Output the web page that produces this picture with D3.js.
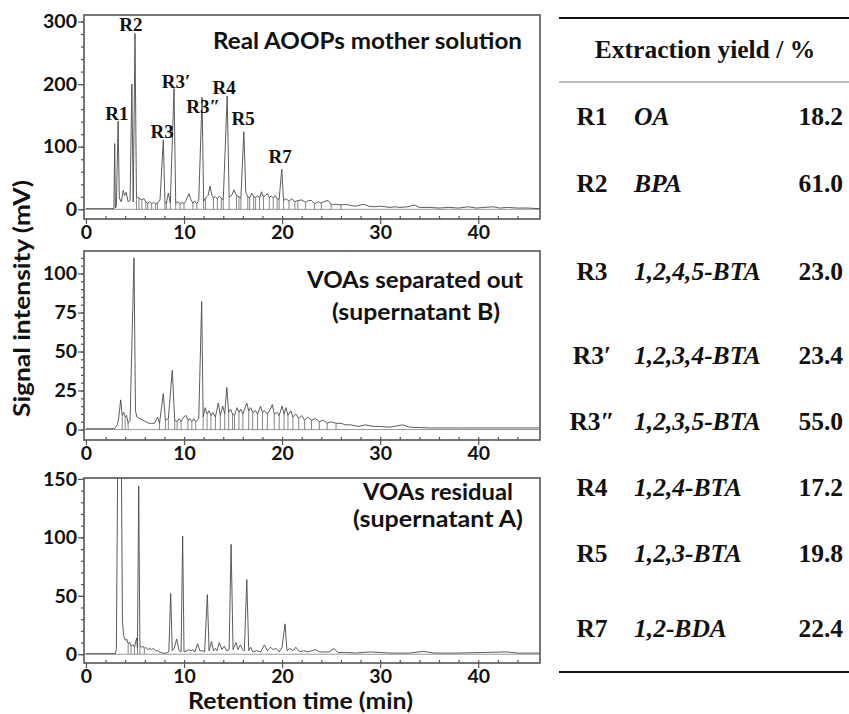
<!DOCTYPE html>
<html>
<head>
<meta charset="utf-8">
<script src="https://cdn.jsdelivr.net/npm/d3@7"></script>
<style>
    body { margin: 0; background: #fff; }
    svg { display: block; }
    .tick text { font-family: Lato, "Open Sans", sans-serif; font-weight: bold; font-size: 19.5px; fill: #111; }
    .axis line { stroke: #555; stroke-width: 1.2; }
    .panel-title { font-family: Lato, "Open Sans", sans-serif; font-weight: bold; font-size: 22px; fill: #111; }
    .peak-label { font-family: "Liberation Serif", "Times New Roman", serif; font-weight: bold; font-size: 19px; fill: #111; }
    .tbl { font-family: "Liberation Serif", "Times New Roman", serif; font-weight: bold; font-size: 25.5px; fill: #111; }
</style>
</head>
<body>
<svg width="849" height="714"></svg>
<script>
// ---- data (time in min, signal in mV) ----

// Real AOOPs mother solution
var motherT = [0, 2.85, 2.93, 3.0, 3.1, 3.28, 3.4, 3.6, 3.8, 3.95, 4.1, 4.3, 4.5, 4.68, 4.82, 5.0, 5.15, 5.4, 5.7, 5.9,
    6.1, 6.3, 6.5, 6.7, 6.9, 7.1, 7.3, 7.55, 7.89, 8.05, 8.2, 8.4, 8.6, 8.98, 9.15, 9.4, 9.6, 9.8, 10.0, 10.2,
    10.5, 10.7, 10.9, 11.1, 11.3, 11.5, 11.84, 12.0, 12.2, 12.45, 12.65, 12.85, 13.0, 13.2, 13.4, 13.6, 13.8, 14.0, 14.4, 14.6,
    14.85, 15.1, 15.35, 15.6, 15.8, 16.1, 16.3, 16.5, 16.7, 16.9, 17.1, 17.3, 17.5, 17.7, 17.9, 18.1, 18.3, 18.5, 18.7, 18.9,
    19.1, 19.3, 19.5, 19.7, 19.97, 20.15, 20.4, 20.7, 21.0, 21.3, 21.6, 22.0, 22.4, 22.7, 23.0, 23.3, 23.7, 24.0, 24.4, 24.7,
    25.0, 25.5, 26.0, 26.5, 27.0, 27.5, 28.0, 28.4, 28.8, 29.4, 30.0, 30.5, 31.0, 31.5, 32.0, 32.8, 33.5, 34.0, 35.0, 36.0,
    37.0, 38.0, 39.0, 39.8, 40.6, 41.5, 42.2, 43.0, 44.0, 45.0, 46.3];
var motherV = [1, 1, 105, 2, 5, 141, 18, 12, 30, 22, 27, 12, 14, 200, 12, 281, 20, 18, 15, 17,
    12, 10, 12, 9, 11, 9, 10, 15, 111, 12, 9, 26, 10, 193, 10, 12, 8, 11, 9, 14,
    25, 15, 10, 13, 9, 14, 179, 13, 18, 22, 37, 22, 18, 20, 17, 21, 18, 15, 181, 20,
    22, 31, 22, 20, 18, 124, 27, 20, 18, 26, 20, 19, 22, 18, 28, 20, 22, 25, 19, 21,
    18, 22, 17, 16, 64, 14, 17, 13, 17, 12, 14, 15, 11, 14, 14, 9, 12, 10, 13, 14,
    8, 8, 7, 8, 6, 5, 7, 8, 5, 4, 5, 4, 3, 4, 3, 4, 7, 3, 3, 2,
    3, 2, 4, 2, 3, 4, 2, 3, 2, 2, 1];
var motherDrops = [5.15, 5.4, 5.7, 6.1, 6.3, 6.7, 7.1, 7.3, 8.05, 8.2, 8.6, 9.15, 9.6, 10.0, 10.9, 11.3, 12.0, 12.2, 13.0, 13.4,
    13.8, 14.0, 14.6, 15.35, 15.6, 15.8, 16.5, 16.7, 17.1, 17.3, 17.7, 18.1, 18.7, 19.1, 19.5, 19.7, 20.15, 20.7, 21.3, 21.6,
    22.4, 23.3, 24.0, 25.0, 26.0];

// VOAs separated out (supernatant B)
var supBT = [0, 2.9, 3.2, 3.35, 3.54, 3.7, 3.85, 4.0, 4.15, 4.3, 4.5, 4.9, 5.05, 5.2, 5.5, 5.8, 6.1, 6.4, 6.7, 7.0,
    7.3, 7.5, 7.89, 8.1, 8.4, 8.8, 9.05, 9.3, 9.5, 9.7, 9.95, 10.2, 10.4, 10.6, 10.8, 11.0, 11.2, 11.5, 11.8, 11.95,
    12.15, 12.35, 12.55, 12.75, 12.95, 13.2, 13.5, 13.7, 13.95, 14.15, 14.36, 14.55, 14.75, 14.95, 15.15, 15.4, 15.6, 15.8, 16.0, 16.4,
    16.6, 16.8, 17.0, 17.3, 17.5, 17.8, 18.0, 18.2, 18.5, 18.8, 19.0, 19.2, 19.5, 19.7, 20.0, 20.2, 20.4, 20.6, 20.9, 21.1,
    21.4, 21.7, 22.0, 22.3, 22.6, 23.0, 23.4, 23.8, 24.2, 24.6, 25.0, 25.5, 26.0, 26.5, 27.0, 27.8, 28.5, 29.3, 30.0, 31.0,
    32.3, 33.0, 35.0, 38.0, 42.0, 46.3];
var supBV = [0.5, 0.5, 3, 8, 19, 9, 11, 8, 9, 4, 6, 110, 12, 8, 7, 6, 5, 4, 4, 4,
    8, 4, 23, 6, 7, 38, 6, 5, 7, 5, 8, 9, 6, 7, 5, 7, 5, 7, 82, 8,
    14, 10, 12, 9, 11, 8, 17, 9, 15, 10, 27, 11, 13, 10, 9, 14, 11, 13, 10, 17,
    12, 14, 11, 12, 10, 15, 11, 12, 10, 13, 16, 10, 11, 9, 15, 10, 14, 9, 12, 8,
    10, 7, 9, 6, 8, 6, 7, 5, 6, 4, 5, 4, 4, 3, 3, 2, 3, 2, 2, 1.5,
    3, 1.5, 1, 1, 1, 1];
var supBDrops = [3.7, 4.0, 4.3, 7.5, 8.1, 8.4, 9.05, 9.3, 9.7, 10.4, 10.8, 11.2, 11.95, 12.35, 12.75, 13.2, 13.7, 14.15, 14.55, 14.95,
    15.15, 15.6, 16.0, 16.6, 17.0, 17.5, 18.0, 18.5, 19.2, 19.7, 20.2, 20.6, 21.1, 21.7, 22.3, 23.0, 23.8, 24.6, 25.5];

// VOAs residual (supernatant A)
var supAT = [0, 3.0, 3.1, 3.25, 3.6, 3.72, 3.85, 4.0, 4.15, 4.3, 4.45, 4.6, 4.8, 4.95, 5.17, 5.25, 5.38, 5.5, 5.65, 5.8,
    5.95, 6.1, 6.3, 6.5, 6.7, 6.9, 7.1, 7.3, 7.5, 7.8, 8.2, 8.45, 8.64, 8.8, 9.0, 9.25, 9.5, 9.7, 9.86, 10.0,
    10.3, 10.5, 10.7, 10.9, 11.1, 11.4, 11.6, 11.9, 12.1, 12.38, 12.55, 12.8, 13.0, 13.2, 13.35, 13.6, 13.85, 14.1, 14.35, 14.6,
    14.8, 15.0, 15.3, 15.5, 15.75, 15.95, 16.15, 16.4, 16.6, 16.8, 17.0, 17.4, 17.8, 18.2, 18.5, 18.8, 19.1, 19.4, 19.7, 20.0,
    20.3, 20.5, 20.8, 21.1, 21.4, 21.8, 22.2, 22.6, 23.0, 23.4, 23.8, 24.3, 24.8, 25.3, 25.7, 26.5, 27.5, 29.0, 30.0, 31.0,
    33.0, 34.4, 35.5, 38.0, 40.5, 42.9, 44.0, 46.3];
var supAV = [0.5, 0.5, 5, 180, 180, 28, 16, 12, 13, 9, 10, 7, 8, 6, 14, 5, 144, 7, 6, 7,
    5, 6, 4, 5, 4, 5, 3, 3, 2, 1, 1, 2, 52, 3, 5, 13, 3, 2, 101, 2,
    3, 4, 3, 4, 2, 9, 3, 3, 2, 51, 3, 11, 3, 5, 3, 10, 4, 7, 3, 4,
    94, 4, 10, 4, 8, 4, 3, 64, 3, 6, 2, 3, 2, 8, 3, 6, 4, 5, 2, 6,
    26, 3, 5, 3, 6, 2, 3, 2, 3, 4, 2, 2, 2, 5, 1.5, 1.5, 1, 2, 1.5, 1,
    1, 2.5, 1, 1, 1.5, 2, 1, 1];
var supADrops = [4.3, 4.6, 4.95, 5.25, 5.5, 5.95];

// peak labels on the mother-solution trace (label anchor in min / mV)
var peakNames = ['R1', 'R2', 'R3', 'R3\u2032', 'R3\u2033', 'R4', 'R5', 'R7'];
var peakLabelT = [3.16, 4.59, 7.76, 9.18, 11.94, 14.08, 16.02, 19.8];
var peakLabelV = [143, 285, 114, 194, 154, 184, 134, 74];

// axis ticks
var xTicks = [0, 10, 20, 30, 40];
var motherYTicks = [0, 100, 200, 300];
var supBYTicks = [0, 25, 50, 75, 100];
var supAYTicks = [0, 50, 100, 150];

// extraction yield table
var tableCodes = ['R1', 'R2', 'R3', 'R3\u2032', 'R3\u2033', 'R4', 'R5', 'R7'];
var tableNames = ['OA', 'BPA', '1,2,4,5-BTA', '1,2,3,4-BTA', '1,2,3,5-BTA', '1,2,4-BTA', '1,2,3-BTA', '1,2-BDA'];
var tableYields = [18.2, 61.0, 23.0, 23.4, 55.0, 17.2, 19.8, 22.4];

// ---- layout ----
var svg = d3.select('svg');
var plotLeft = 84, plotRight = 540;

var x = d3.scaleLinear()
    .domain([-0.2, 46.3])
    .range([plotLeft, plotRight]);

var panels = [
    {id: 'mother', t: motherT, v: motherV, drops: motherDrops, top: 15, bottom: 219,
        yDomain: [-15.5, 310.4], yTicks: motherYTicks, yMinorStep: 20},
    {id: 'supB', t: supBT, v: supBV, drops: supBDrops, top: 251, bottom: 440,
        yDomain: [-6.7, 114.4], yTicks: supBYTicks, yMinorStep: 5},
    {id: 'supA', t: supAT, v: supAV, drops: supADrops, top: 478, bottom: 663,
        yDomain: [-7.5, 150.8], yTicks: supAYTicks, yMinorStep: 10}
];

panels.forEach(function(p) {
    var y = d3.scaleLinear()
        .domain(p.yDomain)
        .range([p.bottom, p.top]);
    p.y = y;

    var g = svg.append('g').attr('class', 'panel-' + p.id);

    g.append('clipPath')
        .attr('id', 'clip-' + p.id)
        .append('rect')
        .attr('x', plotLeft)
        .attr('y', p.top)
        .attr('width', plotRight - plotLeft)
        .attr('height', p.bottom - p.top);

    var inner = g.append('g').attr('clip-path', 'url(#clip-' + p.id + ')');

    // zero baseline
    inner.append('line')
        .attr('x1', plotLeft).attr('x2', plotRight)
        .attr('y1', y(0)).attr('y2', y(0))
        .attr('stroke', '#9a9a9a')
        .attr('stroke-width', 1);

    // integration drop lines
    inner.selectAll('line.drop')
        .data(p.drops)
        .enter().append('line')
        .attr('class', 'drop')
        .attr('x1', function(d) { return x(d); })
        .attr('x2', function(d) { return x(d); })
        .attr('y1', y(0))
        .attr('y2', function(d) { return y(p.v[p.t.indexOf(d)]); })
        .attr('stroke', '#666')
        .attr('stroke-width', 0.8);

    var line = d3.line()
        .x(function(i) { return x(p.t[i]); })
        .y(function(i) { return y(p.v[i]); });

    inner.append('path')
        .attr('d', line(d3.range(p.t.length)))
        .attr('fill', 'none')
        .attr('stroke', '#4a4a4a')
        .attr('stroke-width', 0.9);

    // axes
    var xMajor = g.append('g')
        .attr('class', 'axis')
        .attr('transform', 'translate(0,' + p.bottom + ')')
        .call(d3.axisBottom(x).tickValues(xTicks).tickSize(5).tickPadding(1).tickSizeOuter(0));
    xMajor.select('.domain').remove();

    var xMinor = g.append('g')
        .attr('class', 'axis')
        .attr('transform', 'translate(0,' + p.bottom + ')')
        .call(d3.axisBottom(x).tickValues(d3.range(2, 46, 2)).tickSize(-3).tickFormat(''));
    xMinor.select('.domain').remove();

    var yMajor = g.append('g')
        .attr('class', 'axis')
        .attr('transform', 'translate(' + plotLeft + ',0)')
        .call(d3.axisLeft(y).tickValues(p.yTicks).tickSize(6).tickPadding(1).tickSizeOuter(0));
    yMajor.select('.domain').remove();

    var yMinor = g.append('g')
        .attr('class', 'axis')
        .attr('transform', 'translate(' + plotLeft + ',0)')
        .call(d3.axisLeft(y).tickValues(d3.range(0, p.yDomain[1], p.yMinorStep)).tickSize(3).tickFormat(''));
    yMinor.select('.domain').remove();

    // frame
    g.append('rect')
        .attr('x', plotLeft)
        .attr('y', p.top)
        .attr('width', plotRight - plotLeft)
        .attr('height', p.bottom - p.top)
        .attr('fill', 'none')
        .attr('stroke', '#555')
        .attr('stroke-width', 1.6);
});

// panel titles, stretched to the widths seen in the figure
function addTitle(txt, xPos, yPos, len) {
    svg.append('text')
        .attr('class', 'panel-title')
        .attr('x', xPos).attr('y', yPos)
        .attr('textLength', len)
        .attr('lengthAdjust', 'spacingAndGlyphs')
        .text(txt);
}
addTitle('Real AOOPs mother solution', 213, 49, 309);
addTitle('VOAs separated out', 307, 288, 216);
addTitle('(supernatant B)', 332, 320, 168);
addTitle('VOAs residual', 363, 500, 150);
addTitle('(supernatant A)', 353, 527, 170);

// peak labels on the top panel
var yTop = panels[0].y;
svg.append('g').selectAll('text')
    .data(peakNames)
    .enter().append('text')
    .attr('class', 'peak-label')
    .attr('text-anchor', 'middle')
    .attr('x', function(d, i) { return x(peakLabelT[i]); })
    .attr('y', function(d, i) { return yTop(peakLabelV[i]); })
    .text(function(d) { return d; });

// axis titles
svg.append('text')
    .attr('class', 'panel-title')
    .attr('transform', 'translate(30,417) rotate(-90)')
    .attr('textLength', 237)
    .attr('lengthAdjust', 'spacingAndGlyphs')
    .style('font-size', '22px')
    .text('Signal intensity (mV)');
svg.append('text')
    .attr('class', 'panel-title')
    .attr('x', 188).attr('y', 709)
    .attr('textLength', 225)
    .attr('lengthAdjust', 'spacingAndGlyphs')
    .style('font-size', '22px')
    .text('Retention time (min)');

// ---- table ----
var tbl = svg.append('g');
var rowY = [125, 192, 280, 364, 430, 496, 562, 637];

tbl.append('line').attr('x1', 559).attr('x2', 849).attr('y1', 18).attr('y2', 18)
    .attr('stroke', '#111').attr('stroke-width', 2);
tbl.append('line').attr('x1', 559).attr('x2', 849).attr('y1', 82).attr('y2', 82)
    .attr('stroke', '#777').attr('stroke-width', 1);
tbl.append('line').attr('x1', 559).attr('x2', 849).attr('y1', 672).attr('y2', 672)
    .attr('stroke', '#111').attr('stroke-width', 2);

tbl.append('text').attr('class', 'tbl')
    .attr('x', 705).attr('y', 58).attr('text-anchor', 'middle')
    .text('Extraction yield / %');

var rows = tbl.selectAll('g.row')
    .data(tableCodes)
    .enter().append('g')
    .attr('class', 'row')
    .attr('transform', function(d, i) { return 'translate(0,' + rowY[i] + ')'; });

rows.append('text').attr('class', 'tbl')
    .attr('x', 592).attr('text-anchor', 'middle')
    .text(function(d) { return d; });
rows.append('text').attr('class', 'tbl')
    .attr('x', 634).style('font-style', 'italic')
    .text(function(d, i) { return tableNames[i]; });
rows.append('text').attr('class', 'tbl')
    .attr('x', 843).attr('text-anchor', 'end')
    .text(function(d, i) { return tableYields[i].toFixed(1); });
</script>
</body>
</html>
